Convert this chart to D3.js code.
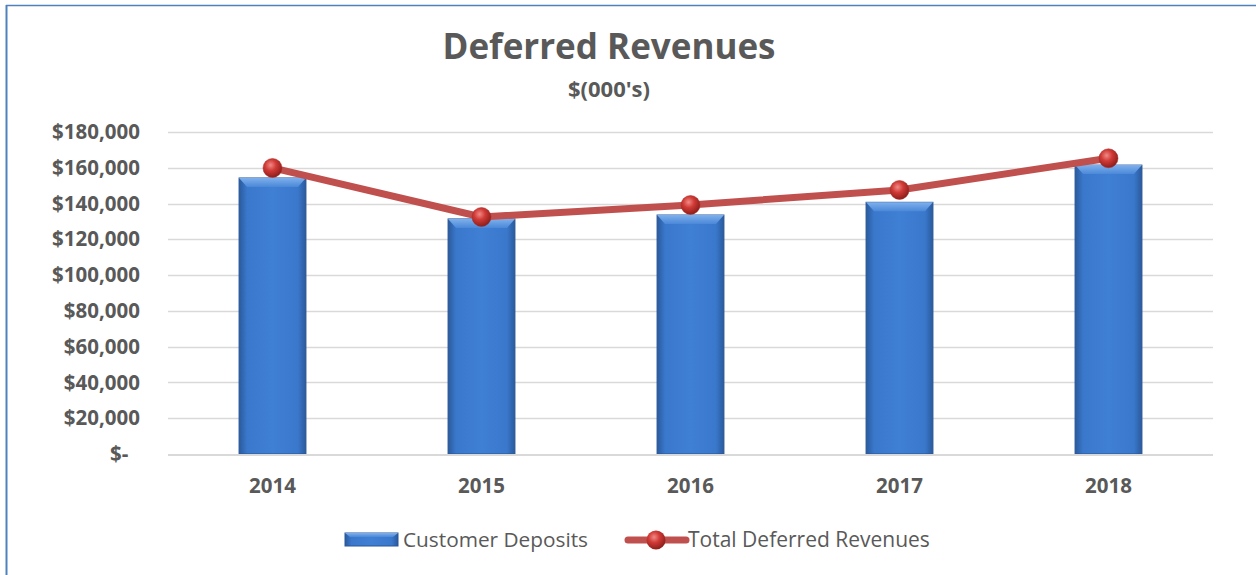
<!DOCTYPE html>
<html><head><meta charset="utf-8">
<script src="https://cdn.jsdelivr.net/npm/d3@7"></script>
<style>
html,body{margin:0;padding:0;background:#fff;}
svg{display:block;font-family:"Open Sans","Noto Sans",sans-serif;}
</style></head>
<body>
<svg id="chart" width="1256" height="575"></svg>
<script>
const categories = ["2014","2015","2016","2017","2018"];
const customerDeposits = [154300, 131400, 133600, 140700, 161500];
const totalDeferred = [159900, 132500, 139200, 147600, 165300];
const yTicks = [0,20000,40000,60000,80000,100000,120000,140000,160000,180000];
const seriesNames = ["Customer Deposits","Total Deferred Revenues"];

const svg = d3.select("#chart");
const W = 1256, H = 575;
const margin = {left:168, right:43, top:132, bottom:121};
const x = d3.scaleBand().domain(categories).range([margin.left, W - margin.right]).paddingInner(0.68).paddingOuter(0.34);
const y = d3.scaleLinear().domain([0,180000]).range([H - margin.bottom, margin.top]);
const textColor = "#595959";

const defs = svg.append("defs");
const bg = defs.append("linearGradient").attr("id","barGrad").attr("x1","0").attr("x2","1").attr("y1","0").attr("y2","0");
bg.append("stop").attr("offset","0").attr("stop-color","#2a5a9c");
bg.append("stop").attr("offset","0.12").attr("stop-color","#3a78cc");
bg.append("stop").attr("offset","0.5").attr("stop-color","#3f7fd4");
bg.append("stop").attr("offset","0.88").attr("stop-color","#3a78cc");
bg.append("stop").attr("offset","1").attr("stop-color","#2a5a9c");
const tg = defs.append("linearGradient").attr("id","topGrad").attr("x1","0").attr("x2","0").attr("y1","0").attr("y2","1");
tg.append("stop").attr("offset","0").attr("stop-color","#7fb0ec");
tg.append("stop").attr("offset","1").attr("stop-color","#4a88d8");
const rg = defs.append("radialGradient").attr("id","ballGrad").attr("cx","0.4").attr("cy","0.35").attr("r","0.65");
rg.append("stop").attr("offset","0").attr("stop-color","#f08a86");
rg.append("stop").attr("offset","0.45").attr("stop-color","#d13a36");
rg.append("stop").attr("offset","1").attr("stop-color","#8e1f1c");

// Frame
svg.append("line").attr("x1",6).attr("x2",W).attr("y1",5.5).attr("y2",5.5).attr("stroke","#4f81bd").attr("stroke-width",1.5);
svg.append("line").attr("x1",6.5).attr("x2",6.5).attr("y1",5).attr("y2",H).attr("stroke","#4f81bd").attr("stroke-width",2);

// Title
svg.append("text").attr("x",609).attr("y",59).attr("text-anchor","middle").attr("font-size",35).attr("font-weight","bold").attr("fill",textColor).text("Deferred Revenues");
svg.append("text").attr("x",609).attr("y",97).attr("text-anchor","middle").attr("font-size",22).attr("font-weight","bold").attr("fill",textColor).text("$(000's)");

// Gridlines
svg.append("g").selectAll("line").data(yTicks.slice(1)).join("line")
  .attr("x1",margin.left).attr("x2",W-margin.right)
  .attr("y1",d=>Math.round(y(d))+0.5).attr("y2",d=>Math.round(y(d))+0.5)
  .attr("stroke","#d9d9d9").attr("stroke-width",1.5);

// Y axis
const fmt = d => d===0 ? "$-" : "$" + d3.format(",")(d);
const yAxis = svg.append("g").attr("transform",`translate(${margin.left},0)`)
  .call(d3.axisLeft(y).tickValues(yTicks).tickFormat(fmt).tickSize(0).tickPadding(28));
yAxis.select(".domain").remove();
yAxis.selectAll("text").attr("font-size",20.5).attr("font-weight","bold").attr("fill",textColor).attr("font-family","'Open Sans',sans-serif");
yAxis.selectAll(".tick").filter(d=>d===0).select("text").attr("x",-58).attr("text-anchor","start");

// Bars
const bars = svg.append("g");
customerDeposits.forEach((v,i)=>{
  const bx = x(categories[i]), bw = x.bandwidth(), by = y(v), bh = y(0)-y(v);
  bars.append("rect").attr("x",bx).attr("y",by).attr("width",bw).attr("height",bh).attr("fill","url(#barGrad)").attr("stroke","#2b5797").attr("stroke-width",1);
  bars.append("path").attr("d",`M${bx},${by}L${bx+bw},${by}L${bx+bw-8},${by+9}L${bx+8},${by+9}Z`).attr("fill","url(#topGrad)");
});

// X axis line
svg.append("line").attr("x1",margin.left).attr("x2",W-margin.right).attr("y1",y(0)+1).attr("y2",y(0)+1).attr("stroke","#d9d9d9").attr("stroke-width",2);

// X axis labels
const xAxis = svg.append("g").attr("transform",`translate(0,${y(0)})`)
  .call(d3.axisBottom(x).tickSize(0).tickPadding(24));
xAxis.select(".domain").remove();
xAxis.selectAll("text").attr("font-size",20.5).attr("font-weight","bold").attr("fill",textColor).attr("font-family","'Open Sans',sans-serif");

// Line
const cx = c => x(c) + x.bandwidth()/2;
const line = d3.line().x((d,i)=>cx(categories[i])).y(d=>y(d));
svg.append("path").datum(totalDeferred).attr("d",line).attr("fill","none").attr("stroke","#c0504d").attr("stroke-width",7).attr("stroke-linejoin","round");
svg.append("g").selectAll("circle").data(totalDeferred).join("circle")
  .attr("cx",(d,i)=>cx(categories[i])).attr("cy",d=>y(d)).attr("r",9.5)
  .attr("fill","url(#ballGrad)").attr("stroke","#a52a27").attr("stroke-width",0.5);

// Legend
const lg = svg.append("g");
lg.append("rect").attr("x",345).attr("y",533).attr("width",53).attr("height",13).attr("fill","url(#barGrad)").attr("stroke","#2b5797");
lg.append("path").attr("d","M345,533L398,533L393,537L350,537Z").attr("fill","url(#topGrad)");
lg.append("text").attr("x",403).attr("y",547).attr("font-size",20.8).attr("fill",textColor).text(seriesNames[0]);
lg.append("line").attr("x1",628).attr("x2",686).attr("y1",540).attr("y2",540).attr("stroke","#c0504d").attr("stroke-width",7).attr("stroke-linecap","round");
lg.append("circle").attr("cx",656).attr("cy",540).attr("r",9.5).attr("fill","url(#ballGrad)");
lg.append("text").attr("x",688).attr("y",547).attr("font-size",21).attr("fill",textColor).text(seriesNames[1]);
</script>
</body></html>
